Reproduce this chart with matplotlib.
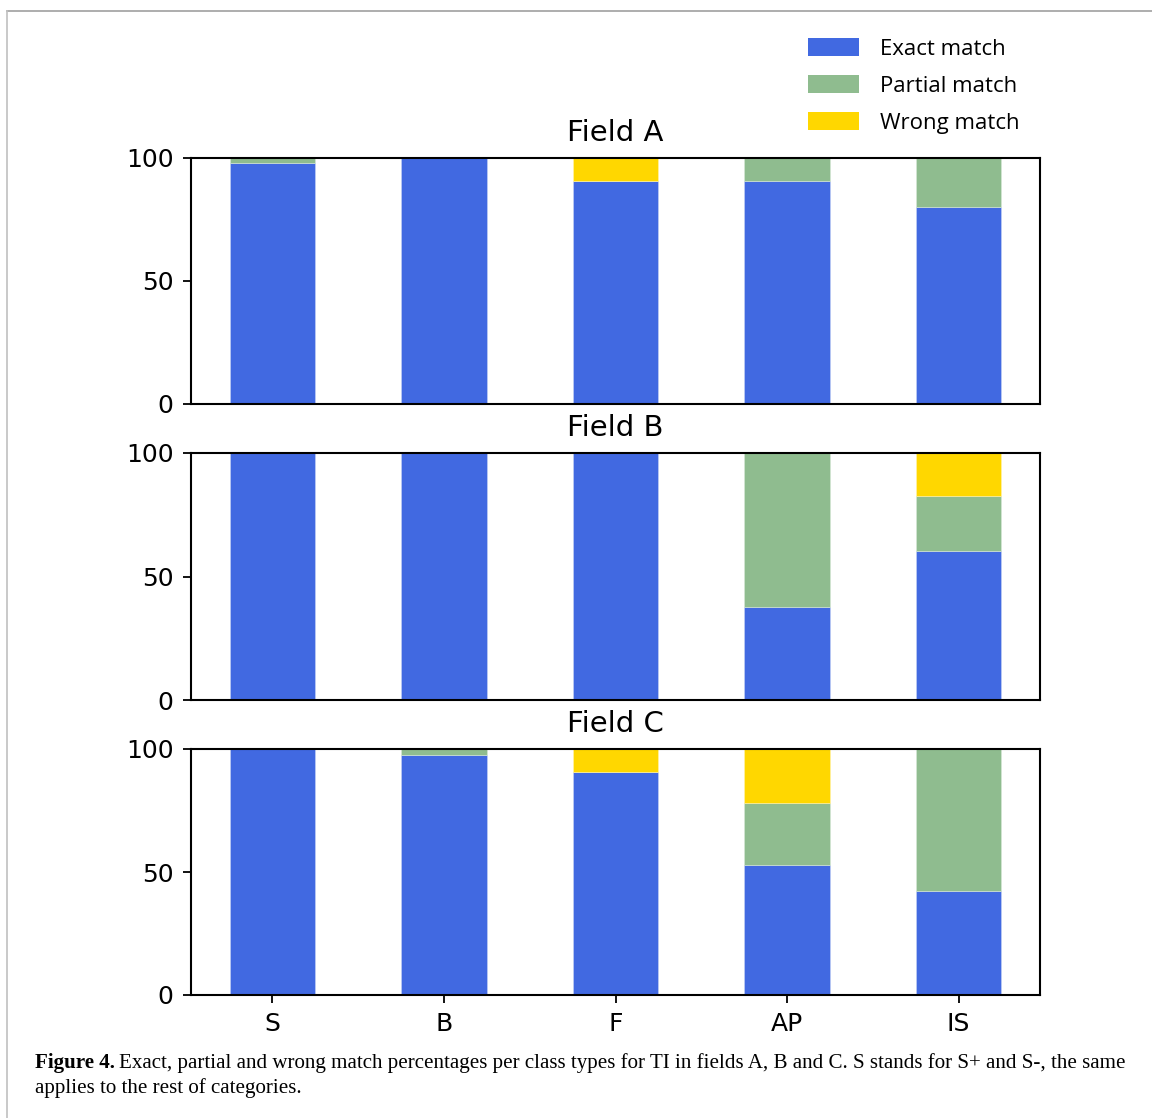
import matplotlib
matplotlib.use("Agg")
import matplotlib.pyplot as plt
from matplotlib.lines import Line2D
from matplotlib.patches import Patch
import numpy as np

# Class types on the x axis
categories = ["S", "B", "F", "AP", "IS"]
fields = ["Field A", "Field B", "Field C"]

# Percentages per field: exact, partial and wrong matches
exact_a = [98.0, 100.0, 90.5, 90.5, 80.0]
partial_a = [2.0, 0.0, 0.0, 9.5, 20.0]
wrong_a = [0.0, 0.0, 9.5, 0.0, 0.0]

exact_b = [100.0, 100.0, 100.0, 37.5, 60.5]
partial_b = [0.0, 0.0, 0.0, 62.5, 22.0]
wrong_b = [0.0, 0.0, 0.0, 0.0, 17.5]

exact_c = [100.0, 97.7, 90.5, 52.8, 42.4]
partial_c = [0.0, 2.3, 0.0, 25.2, 57.6]
wrong_c = [0.0, 0.0, 9.5, 22.0, 0.0]

series = [
    (exact_a, partial_a, wrong_a),
    (exact_b, partial_b, wrong_b),
    (exact_c, partial_c, wrong_c),
]

labels = ["Exact match", "Partial match", "Wrong match"]
colors = ["royalblue", "darkseagreen", "gold"]

W, H = 1152, 1118
fig = plt.figure(figsize=(W / 100, H / 100), dpi=100)

left, right = 191 / W, 1040 / W
tops = [158, 453, 749]
bottoms = [404, 700, 995]

x = np.arange(len(categories))
for i, (name, (ex, pa, wr)) in enumerate(zip(fields, series)):
    b = 1 - bottoms[i] / H
    h = (bottoms[i] - tops[i]) / H
    ax = fig.add_axes([left, b, right - left, h])
    ex = np.array(ex)
    pa = np.array(pa)
    wr = np.array(wr)
    ax.bar(x, ex, 0.5, color=colors[0], edgecolor="#c8d4f5", linewidth=0.4)
    ax.bar(x, pa, 0.5, bottom=ex, color=colors[1], edgecolor="#d8e8d8", linewidth=0.4)
    ax.bar(x, wr, 0.5, bottom=ex + pa, color=colors[2], edgecolor="#fff3b0", linewidth=0.4)
    ax.set_ylim(0, 100)
    ax.set_xlim(-0.475, 4.475)
    ax.set_yticks([0, 50, 100])
    ax.tick_params(axis="y", labelsize=18, length=5.5, width=1.3, pad=7)
    ax.set_title(name, fontsize=21, pad=12)
    for sp in ax.spines.values():
        sp.set_linewidth(1.5)
    if i < 2:
        ax.set_xticks([])
    else:
        ax.set_xticks(x)
        ax.set_xticklabels(categories)
        ax.tick_params(axis="x", labelsize=18, length=5.5, width=1.3, pad=7)

handles = [Patch(facecolor=c, edgecolor="none") for c in colors]
fig.legend(handles, labels, loc="upper left", bbox_to_anchor=(788 / W, 1 - 18 / H),
           frameon=False, handlelength=2.3, handleheight=0.85,
           handletextpad=0.95, labelspacing=0.7,
           prop={"family": "Open Sans", "size": 16})

# Caption below the panels
cap_y1 = 1 - 1063 / H
cap_y2 = 1 - 1088 / H
cap_bold = fig.text(35 / W, cap_y1, "Figure 4.", fontsize=15.1,
                    family="Liberation Serif", weight="bold", va="center", ha="left")
fig.canvas.draw()
bb = cap_bold.get_window_extent()
fig.text((bb.x1 + 4) / W, cap_y1,
         "Exact, partial and wrong match percentages per class types for TI in fields A, B and C. S stands for S+ and S-, the same",
         fontsize=15.1, family="Liberation Serif", va="center", ha="left")
fig.text(35 / W, cap_y2, "applies to the rest of categories.", fontsize=15.1,
         family="Liberation Serif", va="center", ha="left")

# Thin gray frame around the figure area
fig.add_artist(Line2D([7 / W, 1.0], [1 - 11 / H, 1 - 11 / H], color="#a0a0a0", lw=1.2,
                      transform=fig.transFigure))
fig.add_artist(Line2D([7 / W, 7 / W], [1 - 11 / H, 0.0], color="#c0c0c0", lw=1.2,
                      transform=fig.transFigure))

fig.savefig("out.png", dpi=100)
